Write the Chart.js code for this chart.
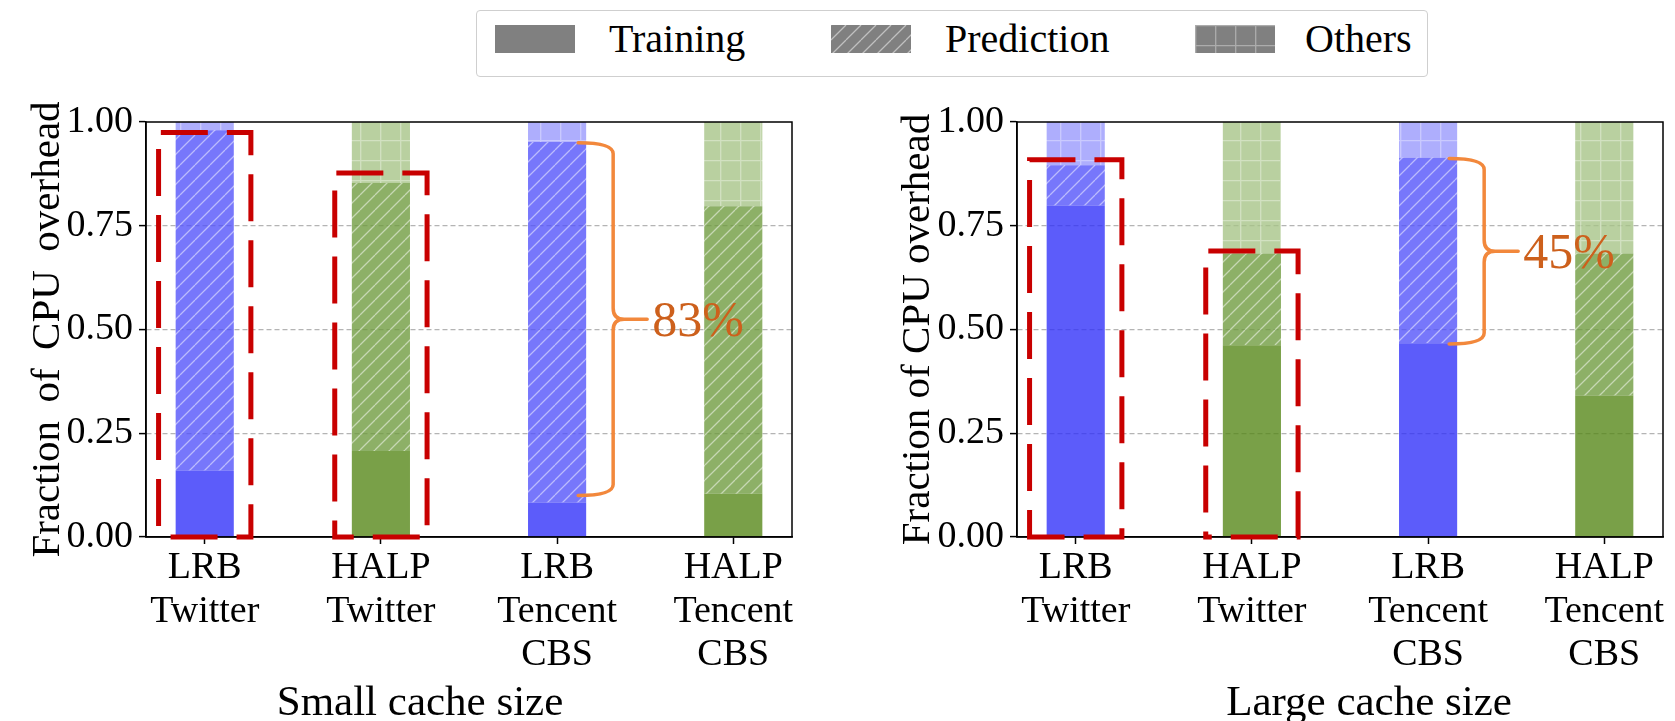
<!DOCTYPE html>
<html>
<head>
<meta charset="utf-8">
<script src="https://cdn.jsdelivr.net/npm/chart.js@4.4.0/dist/chart.umd.min.js"></script>
<style>
  body { margin: 0; background: #fff; }
  #wrap { position: relative; width: 1675px; height: 721px; overflow: hidden; font-family: 'Liberation Serif', serif; color: #000; }
  canvas.chart { position: absolute; top: 0; }
  #legend { position: absolute; left: 476px; top: 10px; width: 950px; height: 65px; border: 1.5px solid #cfcfcf; border-radius: 4px; background: #fff; }
  #legend canvas { position: absolute; top: 14px; }
  #legend span { position: absolute; top: 8px; font-size: 40px; line-height: 40px; white-space: nowrap; }
  .xlab { position: absolute; top: 679px; width: 500px; text-align: center; font-size: 43px; line-height: 43px; white-space: nowrap; }
</style>
</head>
<body>
<div id="wrap">
  <canvas id="smallChart" class="chart" width="840" height="721" style="left:0"></canvas>
  <canvas id="largeChart" class="chart" width="835" height="721" style="left:840px"></canvas>
  <div id="legend"></div>
  <div class="xlab" style="left:170px">Small cache size</div>
  <div class="xlab" style="left:1119px">Large cache size</div>
</div>
<script>
// categories (multi-line tick labels)
const categories = [['LRB', 'Twitter'], ['HALP', 'Twitter'], ['LRB', 'Tencent', 'CBS'], ['HALP', 'Tencent', 'CBS']];
const seriesNames = ['Training', 'Prediction', 'Others'];
const yTicks = [0, 0.25, 0.5, 0.75, 1];

// small cache size (fractions, stacked)
const smallTraining = [0.16, 0.207, 0.083, 0.104];
const smallPrediction = [0.82, 0.646, 0.869, 0.693];
const smallOthers = [0.02, 0.147, 0.048, 0.203];

// large cache size
const largeTraining = [0.799, 0.462, 0.467, 0.341];
const largePrediction = [0.097, 0.221, 0.447, 0.342];
const largeOthers = [0.104, 0.317, 0.086, 0.317];

// red dashed boxes (on first two categories) and the braces
const smallBoxTops = [0.975, 0.877];
const largeBoxTops = [0.909, 0.689];
const smallBrace = { cat: 2, from: 0.10, to: 0.95, label: '83%' };
const largeBrace = { cat: 2, from: 0.465, to: 0.912, label: '45%' };

const blueShades = ['#5c5cfa', '#7777fb', '#aeaefd'];
const greenShades = ['#79a048', '#8db067', '#b9d0a0'];
const kinds = [null, 'hatch', 'grid'];
const BAR_W = 0.33;

// canvas font: first serif family the canvas really has
function pickSerif() {
  const g = document.createElement('canvas').getContext('2d');
  const probe = 'Fraction of CPU overhead 0.75 Wg';
  const widthOf = f => { g.font = '40px ' + f; return g.measureText(probe).width; };
  const mono = widthOf('monospace'), sans = widthOf('sans-serif');
  const names = ['Liberation Serif', 'Times New Roman', 'Times', 'Tinos', 'Nimbus Roman', 'DejaVu Serif', 'Noto Serif'];
  for (const n of names) {
    const q = `"${n}"`;
    if (widthOf(q + ', monospace') !== mono && widthOf(q + ', sans-serif') !== sans) return q + ', serif';
  }
  return 'serif';
}
let SERIF = 'serif';

// semi transparent colour that looks like hex on white
function see(hex, a) {
  const n = parseInt(hex.slice(1), 16);
  const f = c => Math.round(255 - (255 - c) / a);
  return `rgba(${f(n >> 16)},${f((n >> 8) & 255)},${f(n & 255)},${a})`;
}

function makePattern(fill, kind) {
  const s = kind === 'grid' ? 20 : 15;
  const c = document.createElement('canvas');
  c.width = s; c.height = s;
  const g = c.getContext('2d');
  g.fillStyle = fill;
  g.fillRect(0, 0, s, s);
  if (kind) {
    g.strokeStyle = kind === 'grid' ? 'rgba(255,255,255,0.35)' : 'rgba(255,255,255,0.5)';
    g.lineWidth = 1.3;
    g.beginPath();
    if (kind === 'hatch') {
      for (const o of [-s, 0, s]) { g.moveTo(o, s); g.lineTo(o + s, 0); }
    } else {
      g.moveTo(0.7, 0); g.lineTo(0.7, s);
      g.moveTo(0, 0.7); g.lineTo(s, 0.7);
    }
    g.stroke();
  }
  return g.createPattern(c, 'repeat');
}

const overlay = {
  id: 'overlay',
  afterDraw(chart, args, opts) {
    const { ctx, chartArea: a, scales: { x, y } } = chart;
    ctx.save();
    // full frame
    ctx.strokeStyle = '#000';
    ctx.lineWidth = 1.5;
    ctx.strokeRect(a.left, a.top, a.right - a.left, a.bottom - a.top);

    // red highlight boxes
    ctx.strokeStyle = '#c80000';
    ctx.lineWidth = 5;
    ctx.lineJoin = 'miter';
    ctx.setLineDash([47, 19]);
    opts.boxTops.forEach((top, i) => {
      const l = x.getPixelForValue(i - 0.262), r = x.getPixelForValue(i + 0.262);
      const b = y.getPixelForValue(0), t = y.getPixelForValue(top);
      ctx.lineDashOffset = opts.dashPhase[i];
      ctx.beginPath();
      ctx.moveTo(l, b); ctx.lineTo(r, b); ctx.lineTo(r, t); ctx.lineTo(l, t);
      ctx.closePath();
      ctx.stroke();
    });

    // curly brace + label
    const br = opts.brace;
    const barRight = x.getPixelForValue(br.cat + BAR_W / 2);
    const x0 = barRight - 8, xl = barRight + 27, xt = xl + 34, r = 11;
    const yT = y.getPixelForValue(br.to), yB = y.getPixelForValue(br.from), yM = (yT + yB) / 2;
    ctx.setLineDash([]);
    ctx.strokeStyle = '#f2883c';
    ctx.lineWidth = 3.5;
    ctx.lineJoin = 'round';
    ctx.lineCap = 'round';
    ctx.beginPath();
    ctx.moveTo(x0, yT);
    ctx.quadraticCurveTo(xl, yT, xl, yT + r);
    ctx.lineTo(xl, yM - r);
    ctx.quadraticCurveTo(xl, yM, xl + r, yM);
    ctx.lineTo(xt, yM);
    ctx.moveTo(xl + r, yM);
    ctx.quadraticCurveTo(xl, yM, xl, yM + r);
    ctx.lineTo(xl, yB - r);
    ctx.quadraticCurveTo(xl, yB, x0, yB);
    ctx.stroke();
    ctx.fillStyle = '#cd601c';
    ctx.font = '50px ' + SERIF;
    ctx.textBaseline = 'alphabetic';
    ctx.textAlign = 'left';
    ctx.fillText(br.label, xt + 5, yM + 17);
    ctx.restore();
  }
};

function buildChart(id, series, boxTops, dashPhase, brace, yWidth, titlePad, yTitle, padRight) {
  const datasets = series.map((vals, k) => ({
    label: seriesNames[k],
    data: vals.map((v, i) => ({ x: i, y: v })),
    backgroundColor: vals.map((_, i) => makePattern(see((i % 2 ? greenShades : blueShades)[k], 0.78), kinds[k])),
    borderWidth: 0,
    categoryPercentage: BAR_W,
    barPercentage: 1
  }));
  return new Chart(document.getElementById(id), {
    type: 'bar',
    data: { datasets },
    plugins: [overlay],
    options: {
      responsive: false,
      animation: false,
      layout: { padding: { top: 122, right: padRight, bottom: 0, left: 0 } },
      plugins: {
        legend: { display: false },
        tooltip: { enabled: false },
        overlay: { boxTops, dashPhase, brace }
      },
      scales: {
        x: {
          type: 'linear',
          min: -1 / 3, max: 3 + 1 / 3,
          offset: false,
          stacked: true,
          afterBuildTicks: s => { s.ticks = categories.map((_, i) => ({ value: i })); },
          afterFit: s => { s.height = 184; },
          ticks: {
            callback: v => categories[v],
            font: { family: SERIF, size: 38, lineHeight: 1.15 },
            padding: 2,
            maxRotation: 0,
            autoSkip: false
          },
          grid: { drawOnChartArea: false, drawTicks: true, tickLength: 7, tickColor: '#000', tickWidth: 1.5, offset: false },
          border: { color: '#000', width: 1.5 }
        },
        y: {
          min: 0, max: 1,
          stacked: true,
          afterBuildTicks: s => { s.ticks = yTicks.map(v => ({ value: v })); },
          afterFit: s => { s.width = yWidth; },
          ticks: { callback: v => v.toFixed(2), font: { family: SERIF, size: 38 }, padding: 6 },
          grid: {
            color: c => (c.tick && (c.tick.value === 0 || c.tick.value === 1)) ? 'rgba(0,0,0,0)' : '#b4b4b4',
            lineWidth: 1.2,
            tickLength: 7, tickColor: '#000', tickWidth: 1.5
          },
          border: { color: '#000', width: 1.5, dash: [5, 3] },
          title: { display: true, text: yTitle, font: { family: SERIF, size: 41 }, padding: { top: titlePad, bottom: 0 } }
        }
      }
    }
  });
}

function drawAll() {
  SERIF = pickSerif();
  Chart.defaults.font.family = SERIF;
  Chart.defaults.color = '#000';

  buildChart('smallChart', [smallTraining, smallPrediction, smallOthers], smallBoxTops, [54, 28], smallBrace,
    146, 24, 'Fraction \u2009of \u2009CPU \u2009overhead', 48);
  buildChart('largeChart', [largeTraining, largePrediction, largeOthers], largeBoxTops, [12, 41], largeBrace,
    177, 54, 'Fraction of CPU overhead', 12);

  // shared legend
  const legend = document.getElementById('legend');
  const swatchLeft = [18, 354, 718];
  const textLeft = [132, 468, 828];
  seriesNames.forEach((name, k) => {
    const c = document.createElement('canvas');
    c.width = 80; c.height = 28;
    c.style.left = swatchLeft[k] + 'px';
    const g = c.getContext('2d');
    g.fillStyle = makePattern('#808080', kinds[k]);
    g.fillRect(0, 0, 80, 28);
    legend.appendChild(c);
    const t = document.createElement('span');
    t.textContent = name;
    t.style.left = textLeft[k] + 'px';
    legend.appendChild(t);
  });
}

Promise.all([
  document.fonts.load("38px 'Liberation Serif'"),
  document.fonts.load("50px 'Liberation Serif'")
]).then(drawAll, drawAll);
</script>
</body>
</html>
